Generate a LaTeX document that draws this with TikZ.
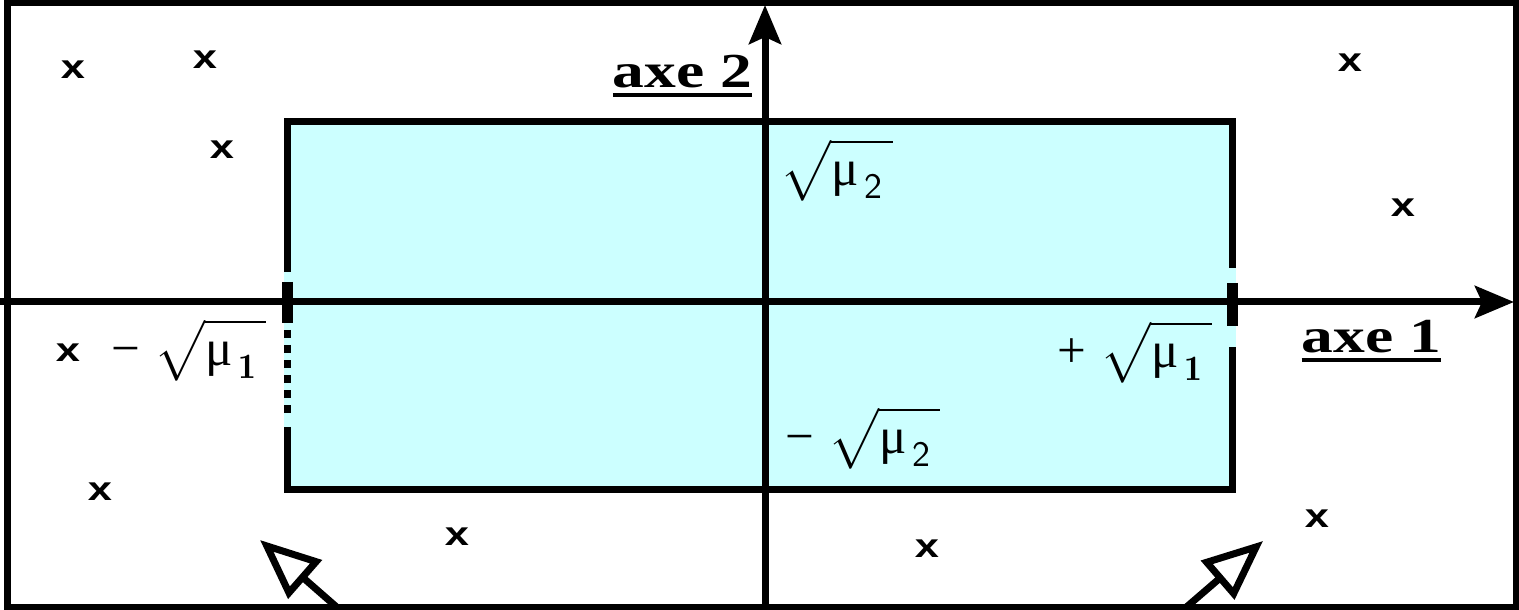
\documentclass[tikz,border=0pt]{standalone}
\usepackage{fontspec}
\usepackage{amsmath}
\usetikzlibrary{arrows.meta}
\newfontfamily\axefont{Liberation Serif}
\newfontfamily\markfont{Liberation Sans}
\definecolor{boxcyan}{RGB}{204,255,255}
\newcommand{\stretchx}[1]{\scalebox{1.3}[1]{#1}}
\newcommand{\axename}[1]{\setbox0\hbox{#1}\rlap{\rule[-2.6pt]{\wd0}{1.2pt}}\box0}
\newcommand{\rootmu}[1]{\sqrt{\mathstrut\text{\axefont μ}_{\,#1}\,}}
\newcommand{\sgn}[1]{\text{\axefont #1}\;}

\begin{document}
\begin{tikzpicture}[x=0.01cm,y=0.01cm,
        edgeline/.style={line width=0.07cm},
        axisline/.style={line width=0.07cm,-{Stealth[length=0.39cm,width=0.32cm,inset=0.07cm]}},
        hollowarrow/.style={line width=0.07cm,-{Triangle[open,length=0.6cm,width=0.5cm]}},
        xmark/.style={font=\markfont\bfseries\fontsize{9.5}{11}\selectfont,inner sep=0pt},
        axe/.style={font=\axefont\bfseries\fontsize{13.9}{16}\selectfont,inner sep=0pt},
        rootlabel/.style={font=\fontsize{14.5}{17}\selectfont,inner sep=0pt}]
    \useasboundingbox (0,0) rectangle (1519,610);
    \fill[boxcyan] (283.5,116.5) rectangle (1235.5,491.5);       % the box
    \draw[edgeline] (287,338) -- (287,488) -- (1232,488) -- (1232,342);  % upper part of the box
    \draw[edgeline] (287,183) -- (287,120) -- (1232,120) -- (1232,263);  % lower part of the box
    \draw[line width=0.11cm] (287,328) -- (287,287);            % ticks on axe 1
    \draw[line width=0.11cm] (1232,327) -- (1232,284);
    \draw[edgeline,dash pattern=on 0.08cm off 0.07cm] (287,280) -- (287,190);
    \draw[axisline] (0,308) -- (1514,308);                      % axe 1
    \draw[axisline] (765,0) -- (765,605);                       % axe 2
    \node[axe,anchor=base east] (axe2) at (753,522) {\stretchx{\axename{axe 2}}};
    \node[axe,anchor=base west] (axe1) at (1301,257) {\stretchx{\axename{axe 1}}};
    \node[rootlabel,anchor=west] (mu2p) at (780,440) {$\rootmu{\mathsf{2}}$};
    \node[rootlabel,anchor=west] (mu2m) at (785,172) {$\sgn{−}\rootmu{\mathsf{2}}$};
    \node[rootlabel,anchor=east] (mu1m) at (267,260) {$\sgn{−}\rootmu{\mathbf{1}}$};
    \node[rootlabel,anchor=east] (mu1p) at (1213,258) {$\sgn{+}\rootmu{\mathbf{1}}$};
    \foreach \px/\py [count=\i] in {73/540,205/550,222/460,68/257,100/118,
            457/73,927/61,1350/547,1403/402,1317/91}
        \node[xmark] (x\i) at (\px,\py) {\stretchx{x}};       % the points
    \coordinate (left tail) at (340,0);
    \coordinate (left tip) at (260,70);
    \coordinate (right tail) at (1183,0);
    \coordinate (right tip) at (1263,69);
    \draw[hollowarrow] (left tail) -- (left tip);
    \draw[hollowarrow] (right tail) -- (right tip);
    \draw[line width=0.065cm] (7.5,3) rectangle (1516,607.5);   % frame
\end{tikzpicture}
\end{document}
